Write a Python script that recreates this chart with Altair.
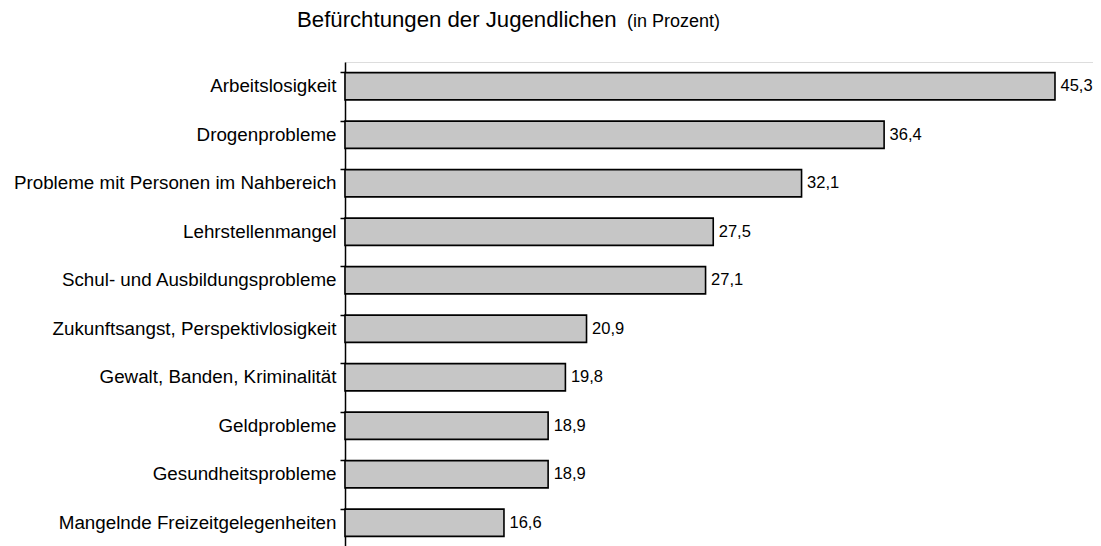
import altair as alt
import pandas as pd

categories = [
    "Arbeitslosigkeit",
    "Drogenprobleme",
    "Probleme mit Personen im Nahbereich",
    "Lehrstellenmangel",
    "Schul- und Ausbildungsprobleme",
    "Zukunftsangst, Perspektivlosigkeit",
    "Gewalt, Banden, Kriminalität",
    "Geldprobleme",
    "Gesundheitsprobleme",
    "Mangelnde Freizeitgelegenheiten",
]
values = [45.3, 36.4, 32.1, 27.5, 27.1, 20.9, 19.8, 18.9, 18.9, 16.6]
value_labels = ["45,3", "36,4", "32,1", "27,5", "27,1", "20,9", "19,8", "18,9", "18,9", "16,6"]

title_main = "Befürchtungen der Jugendlichen"
title_sub = "(in Prozent)"

AXIS_MIN = 8.32
AXIS_MAX = 47.28

df = pd.DataFrame({"cat": categories, "val": values, "lbl": value_labels})
tdf = pd.DataFrame({"main": [title_main], "sub": [title_sub]})

FONT = "Liberation Sans"

y = alt.Y("cat:N", sort=categories, title=None,
          scale=alt.Scale(paddingInner=0.44, paddingOuter=0.22),
          axis=alt.Axis(bandPosition=0, tickSize=5, tickColor="black", tickWidth=1.5,
                        domainColor="black", domainWidth=1.5, labelFont=FONT,
                        labelFontSize=18.8, labelColor="black", labelPadding=4,
                        labelLimit=400, grid=False))
x = alt.X("val:Q", title=None, axis=None,
          scale=alt.Scale(domain=[AXIS_MIN, AXIS_MAX], zero=False, nice=False))

bars = alt.Chart(df).mark_bar(fill="#c6c6c6", stroke="black", strokeWidth=1.6).encode(
    y=y, x=x, x2=alt.X2(datum=AXIS_MIN)
)
texts = alt.Chart(df).mark_text(align="left", baseline="middle", dx=5.5, font=FONT,
                                fontSize=16.5, color="black").encode(
    y=y, x=x, text="lbl:N"
)
t1 = alt.Chart(tdf).mark_text(align="left", baseline="alphabetic", font=FONT,
                              fontSize=22.2, color="black").encode(
    x=alt.value(-48), y=alt.value(-35), text="main:N"
)
t2 = alt.Chart(tdf).mark_text(align="left", baseline="alphabetic", font=FONT,
                              fontSize=18, color="black").encode(
    x=alt.value(282), y=alt.value(-35), text="sub:N"
)

chart = alt.layer(bars, texts, t1, t2).properties(
    width=748, height=485,
    autosize=alt.AutoSizeParams(type="none"),
    padding={"left": 337, "top": 54, "right": 0, "bottom": 0},
).configure_view(strokeWidth=0, stroke="transparent").configure_axis(grid=False).configure(background="white")

chart.save("out.html", embed_options={"renderer": "svg", "actions": False})
